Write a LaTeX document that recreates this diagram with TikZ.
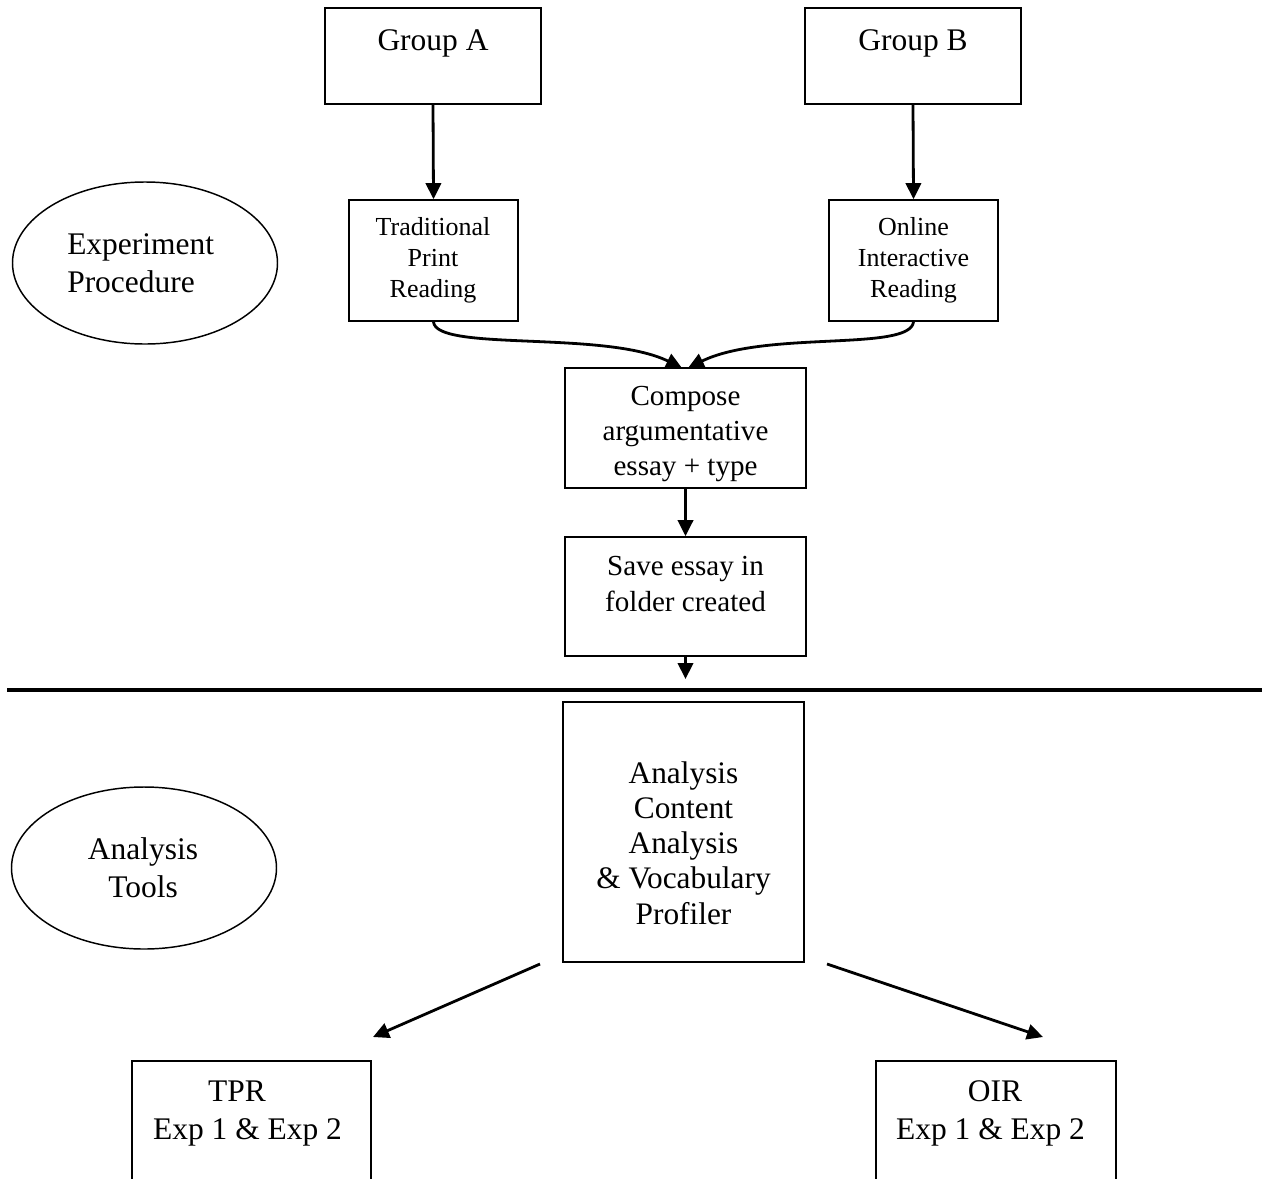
\documentclass[tikz,border=0pt]{standalone}
\usepackage{fontspec}
\setmainfont{Liberation Serif}
\usetikzlibrary{fit,arrows.meta,shapes.geometric}
\begin{document}
\begin{tikzpicture}[x=0.75pt,y=-0.75pt,
  box/.style={draw, line width=1.3pt, inner sep=0pt},
  oval/.style={draw, ellipse, line width=1.1pt, inner sep=0pt, minimum width=198.75pt, minimum height=121.5pt},
  arr/.style={line width=2.1pt, -{Triangle[length=12pt,width=11.5pt]}},
  big/.style={inner sep=0pt, align=center, font=\fontsize{23.6pt}{28.5pt}\selectfont},
  mid/.style={inner sep=0pt, align=center, font=\fontsize{21.8pt}{26.5pt}\selectfont},
  small/.style={inner sep=0pt, align=center, font=\fontsize{19.5pt}{23.25pt}\selectfont},
  ana/.style={inner sep=0pt, align=center, font=\fontsize{23.5pt}{26.4pt}\selectfont}]
\useasboundingbox (0,0) rectangle (1270,1178);
\clip (0,0) rectangle (1270,1178);

% boxes
\node[box, fit={(325,8) (541,104)}] (ga) {};
\node[box, fit={(805,8) (1021,104)}] (gb) {};
\node[box, fit={(349,200) (518,321)}] (tpr) {};
\node[box, fit={(829,200) (998,321)}] (oir) {};
\node[box, fit={(565,368) (806,488)}] (comp) {};
\node[box, fit={(565,537) (806,656)}] (save) {};
\node[box, fit={(563,702) (804,962)}] (anal) {};
\node[box, fit={(132,1061) (371,1220)}] (tprx) {};
\node[box, fit={(876,1061) (1116,1220)}] (oirx) {};

% ellipses
\node[oval] (expe) at (145,263) {};
\node[oval] (tools) at (144,868) {};

% texts
\node[big] (tga) at (433,43) {Group A};
\node[big] (tgb) at (913,43) {Group B};
\node[small] (ttpr) at (433,260) {Traditional\\Print\\Reading};
\node[small] (toir) at (913.5,260) {Online\\Interactive\\Reading};
\node[mid] (tcomp) at (685.5,434) {Compose\\argumentative\\essay + type};
\node[mid] (tsave) at (685.5,584) {Save essay in\\folder created};
\node[ana] (tanal) at (683.5,843) {Analysis\\Content\\Analysis\\\& Vocabulary\\Profiler};
\node[big, align=left, anchor=west] (texpe) at (67,263) {Experiment\\Procedure};
\node[big] (ttools) at (143,868) {Analysis\\Tools};
\node[big] (ttpr1) at (237,1091) {TPR};
\node[big] (ttpr2) at (247.5,1132) {Exp 1 \& Exp 2};
\node[big] (toir1) at (995,1091) {OIR};
\node[big] (toir2) at (990.5,1132) {Exp 1 \& Exp 2};

% connector end points
\coordinate (ctipL) at (682,368);
\coordinate (ctipR) at (688,368);
\coordinate (sv) at (685.5,679);
\coordinate (hl1) at (7,690);
\coordinate (hl2) at (1262,690);
\coordinate (la) at (540,964);
\coordinate (lb) at (373,1037);
\coordinate (ra) at (827,964);
\coordinate (rb) at (1043,1037);

% connectors
\draw[arr] (ga.south) -- (tpr.north);
\draw[arr] (gb.south) -- (oir.north);
\draw[arr] (tpr.south) .. controls (436,352) and (605,330) .. (ctipL);
\draw[arr] (oir.south) .. controls (910,352) and (765,330) .. (ctipR);
\draw[arr] (comp.south) -- (save.north);
\draw[arr] (save.south) -- (sv);
\draw[line width=3.4pt] (hl1) -- (hl2);
\draw[arr] (la) -- (lb);
\draw[arr] (ra) -- (rb);
\end{tikzpicture}
\end{document}
